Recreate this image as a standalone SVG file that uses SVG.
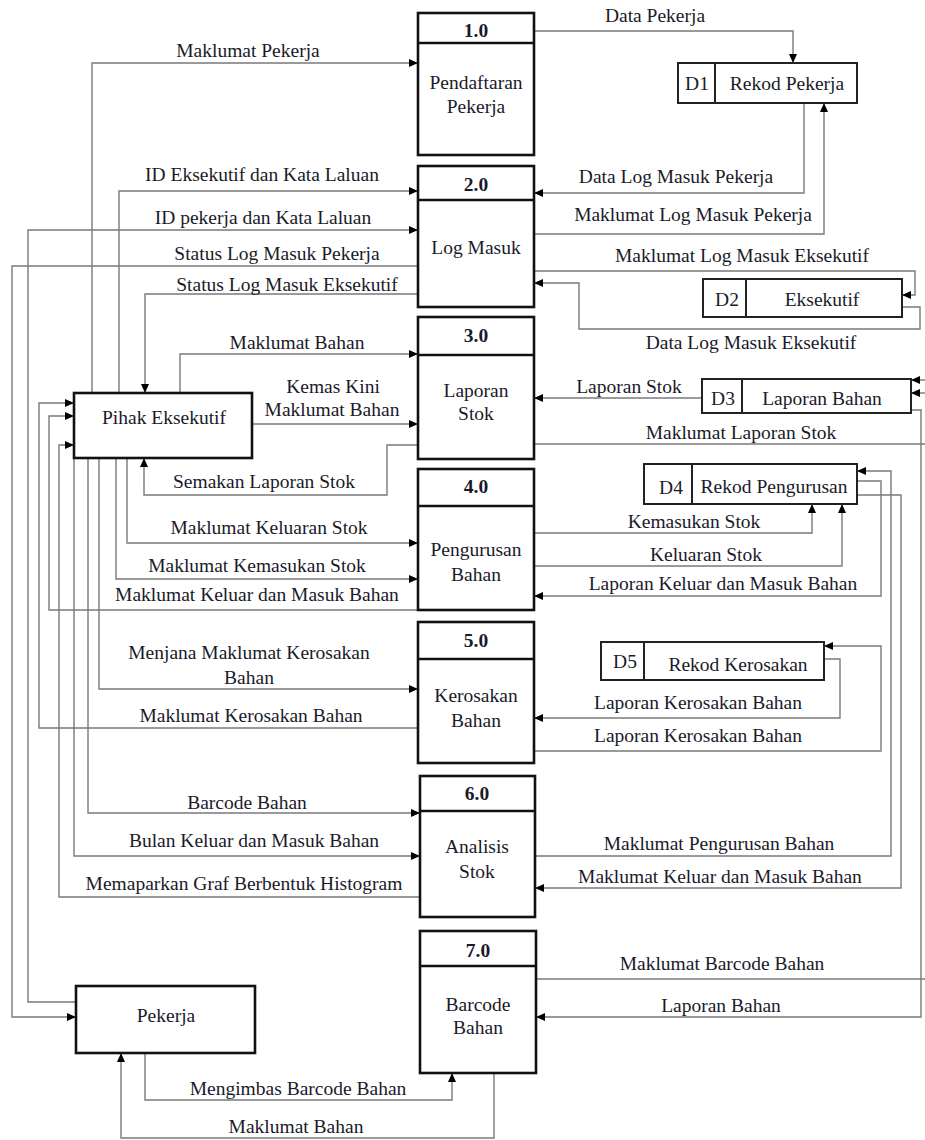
<svg xmlns="http://www.w3.org/2000/svg" width="925" height="1140" viewBox="0 0 925 1140">
<style>
text{font-size:19.5px;fill:#1a1a2a;text-anchor:middle}
.num{font-weight:bold}
.proc{fill:#fff;stroke:#111;stroke-width:2.6}
.store{fill:#fff;stroke:#222;stroke-width:2}
.c path{fill:none;stroke:#7a7a7a;stroke-width:1.4}
.c path.a{marker-end:url(#arr)}
</style>
<defs>
<marker id="arr" markerWidth="9" markerHeight="8" refX="9" refY="4" orient="auto" markerUnits="userSpaceOnUse">
<path d="M0,0 L9,4 L0,8 z" fill="#000"/>
</marker>
</defs>
<rect width="925" height="1140" fill="#fff"/>

<g class="c" id="connectors">
<path class="a" d="M92,393 V63 H418"/>
<path class="a" d="M534,31 H793 V63"/>
<path class="a" d="M119,393 V191 H418"/>
<path class="a" d="M76,1002 H28 V230 H418"/>
<path class="a" d="M418,266 H12 V1017 H76"/>
<path class="a" d="M418,294 H145 V393"/>
<path class="a" d="M804,103 V193 H534"/>
<path class="a" d="M534,234 H824 V103"/>
<path class="a" d="M534,271 H915 V295 H902"/>
<path class="a" d="M902,307 H920 V329 H579 V283 H534"/>
<path class="a" d="M180,393 V354 H418"/>
<path class="a" d="M252,424 H418"/>
<path class="a" d="M418,445 H387 V495 H144 V458"/>
<path class="a" d="M702,398 H534"/>
<path d="M534,444 H925"/>
<path class="a" d="M925,380 H911"/>
<path class="a" d="M925,393 H911"/>
<path class="a" d="M911,410 H921 V1017 H536"/>
<path class="a" d="M127,458 V543 H418"/>
<path class="a" d="M116,458 V579 H418"/>
<path class="a" d="M418,610 H49 V416 H74"/>
<path class="a" d="M534,533 H812 V504"/>
<path class="a" d="M534,566 H842 V504"/>
<path class="a" d="M857,481 H881 V596 H534"/>
<path class="a" d="M535,856 H891 V471 H857"/>
<path class="a" d="M857,495 H901 V888 H535"/>
<path class="a" d="M99,458 V689 H418"/>
<path class="a" d="M418,728 H39 V403 H74"/>
<path class="a" d="M824,659 H840 V718 H534"/>
<path class="a" d="M534,751 H881 V646 H824"/>
<path class="a" d="M88,458 V813 H420"/>
<path class="a" d="M74,458 V856 H420"/>
<path class="a" d="M420,897 H59 V445 H74"/>
<path d="M536,979 H925"/>
<path class="a" d="M145,1053 V1100 H452 V1073"/>
<path class="a" d="M494,1073 V1138 H121 V1053"/>
</g>

<g font-family="Liberation Serif, Tinos, DejaVu Serif, serif">
<g id="labels">
<text x="248" y="57">Maklumat Pekerja</text>
<text x="655" y="22">Data Pekerja</text>
<text x="262" y="181">ID Eksekutif dan Kata Laluan</text>
<text x="263" y="224">ID pekerja dan Kata Laluan</text>
<text x="277" y="260">Status Log Masuk Pekerja</text>
<text x="287" y="291">Status Log Masuk Eksekutif</text>
<text x="676" y="183">Data Log Masuk Pekerja</text>
<text x="693" y="221">Maklumat Log Masuk Pekerja</text>
<text x="742" y="262">Maklumat Log Masuk Eksekutif</text>
<text x="751" y="349">Data Log Masuk Eksekutif</text>
<text x="297" y="349">Maklumat Bahan</text>
<text x="333" y="393">Kemas Kini</text>
<text x="332" y="416">Maklumat Bahan</text>
<text x="264" y="488">Semakan Laporan Stok</text>
<text x="629" y="393">Laporan Stok</text>
<text x="741" y="439">Maklumat Laporan Stok</text>
<text x="269" y="534">Maklumat Keluaran Stok</text>
<text x="257" y="572">Maklumat Kemasukan Stok</text>
<text x="257" y="601">Maklumat Keluar dan Masuk Bahan</text>
<text x="694" y="528">Kemasukan Stok</text>
<text x="706" y="561">Keluaran Stok</text>
<text x="723" y="590">Laporan Keluar dan Masuk Bahan</text>
<text x="249" y="659">Menjana Maklumat Kerosakan</text>
<text x="249" y="684">Bahan</text>
<text x="251" y="722">Maklumat Kerosakan Bahan</text>
<text x="698" y="709">Laporan Kerosakan Bahan</text>
<text x="698" y="742">Laporan Kerosakan Bahan</text>
<text x="247" y="809">Barcode Bahan</text>
<text x="254" y="847">Bulan Keluar dan Masuk Bahan</text>
<text x="244" y="890">Memaparkan Graf Berbentuk Histogram</text>
<text x="719" y="850">Maklumat Pengurusan Bahan</text>
<text x="720" y="883">Maklumat Keluar dan Masuk Bahan</text>
<text x="722" y="970">Maklumat Barcode Bahan</text>
<text x="721" y="1012">Laporan Bahan</text>
<text x="298" y="1095">Mengimbas Barcode Bahan</text>
<text x="296" y="1133">Maklumat Bahan</text>
</g>

<g id="p1">
<rect class="proc" x="418" y="13" width="116" height="142"/>
<line class="proc" x1="418" y1="43" x2="534" y2="43"/>
<text class="num" x="476" y="37">1.0</text>
<text x="476" y="89">Pendaftaran</text>
<text x="476" y="113">Pekerja</text>
</g>
<g id="p2">
<rect class="proc" x="418" y="166" width="116" height="141"/>
<line class="proc" x1="418" y1="200" x2="534" y2="200"/>
<text class="num" x="476" y="191">2.0</text>
<text x="476" y="254">Log Masuk</text>
</g>
<g id="p3">
<rect class="proc" x="418" y="317" width="116" height="142"/>
<line class="proc" x1="418" y1="355" x2="534" y2="355"/>
<text class="num" x="476" y="342">3.0</text>
<text x="476" y="397">Laporan</text>
<text x="476" y="420">Stok</text>
</g>
<g id="p4">
<rect class="proc" x="418" y="469" width="116" height="141"/>
<line class="proc" x1="418" y1="506" x2="534" y2="506"/>
<text class="num" x="476" y="493">4.0</text>
<text x="476" y="556">Pengurusan</text>
<text x="476" y="581">Bahan</text>
</g>
<g id="p5">
<rect class="proc" x="418" y="622" width="116" height="141"/>
<line class="proc" x1="418" y1="659" x2="534" y2="659"/>
<text class="num" x="476" y="647">5.0</text>
<text x="476" y="702">Kerosakan</text>
<text x="476" y="727">Bahan</text>
</g>
<g id="p6">
<rect class="proc" x="420" y="776" width="115" height="141"/>
<line class="proc" x1="420" y1="811" x2="535" y2="811"/>
<text class="num" x="477" y="800">6.0</text>
<text x="477" y="853">Analisis</text>
<text x="477" y="878">Stok</text>
</g>
<g id="p7">
<rect class="proc" x="420" y="931" width="116" height="142"/>
<line class="proc" x1="420" y1="966" x2="536" y2="966"/>
<text class="num" x="478" y="957">7.0</text>
<text x="478" y="1011">Barcode</text>
<text x="478" y="1034">Bahan</text>
</g>

<g id="d1">
<rect class="store" x="678" y="63" width="179" height="40"/>
<line class="store" x1="715" y1="63" x2="715" y2="103"/>
<text x="697" y="90">D1</text>
<text x="787" y="90">Rekod Pekerja</text>
</g>
<g id="d2">
<rect class="store" x="703" y="279" width="199" height="38"/>
<line class="store" x1="746" y1="279" x2="746" y2="317"/>
<text x="727" y="306">D2</text>
<text x="822" y="306">Eksekutif</text>
</g>
<g id="d3">
<rect class="store" x="702" y="379" width="209" height="34"/>
<line class="store" x1="742" y1="379" x2="742" y2="413"/>
<text x="723" y="405">D3</text>
<text x="822" y="405">Laporan Bahan</text>
</g>
<g id="d4">
<rect class="store" x="644" y="464" width="213" height="40"/>
<line class="store" x1="692" y1="464" x2="692" y2="504"/>
<text x="671" y="494">D4</text>
<text x="774" y="493">Rekod Pengurusan</text>
</g>
<g id="d5">
<rect class="store" x="601" y="642" width="223" height="38"/>
<line class="store" x1="644" y1="642" x2="644" y2="680"/>
<text x="625" y="668">D5</text>
<text x="738" y="671">Rekod Kerosakan</text>
</g>

<g id="pihak">
<rect class="proc" x="74" y="393" width="178" height="65"/>
<text x="164" y="424">Pihak Eksekutif</text>
</g>
<g id="pekerja">
<rect class="proc" x="76" y="986" width="179" height="67"/>
<text x="166" y="1022">Pekerja</text>
</g>
</g>
</svg>
